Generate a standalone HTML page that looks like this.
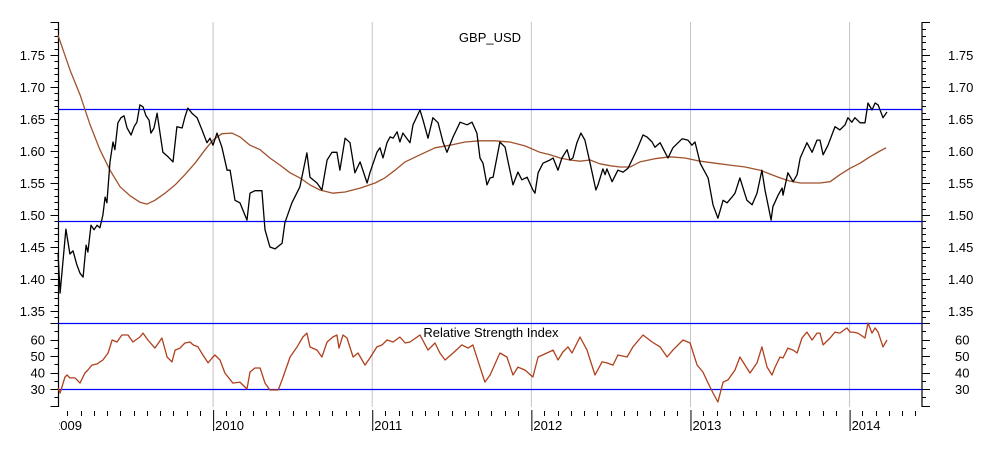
<!DOCTYPE html>
<html><head><meta charset="utf-8"><style>
html,body{margin:0;padding:0;background:#fff;}
svg{display:block;font-family:"Liberation Sans",Arial,sans-serif;}
</style></head><body>
<svg id="chart" width="1005" height="452" viewBox="0 0 1005 452" xmlns="http://www.w3.org/2000/svg">
<g id="grid"></g>
<g id="axes"></g>
<g id="series"></g>
<text x="490" y="42" font-size="13" text-anchor="middle">GBP_USD</text>
<text x="491" y="337" font-size="13" text-anchor="middle">Relative Strength Index</text>
</svg>
<script>
// ---- data (weeks since 1 Jan 2009) ----
const priceWeeks=[1.3,2,3.9,5.2,6.2,7.5,8.5,9.5,10.5,11.1,12.1,13.1,14.1,15,16,16.7,17.3,18.3,19.3,19.9,20.9,21.9,22.9,23.9,25.2,26.2,27.1,28.1,29.1,30.1,31.1,31.7,32.7,33.7,34.7,35.6,37.3,38.9,40.2,41.9,42.8,43.8,45.1,46.8,48.4,50,51,52,53.3,54.9,56.6,57.6,59.2,60.8,63.1,64.1,65.7,68,69,70.6,72.3,74.6,75.5,77.8,80.4,82.7,83.7,86,87.6,89.3,90.9,92.5,93.5,95.2,96.8,98.4,100.1,102.4,103.3,105.6,106.6,107.6,108.9,109.9,110.9,112.2,113.1,114.1,116.4,117.4,119.7,120.7,122.3,123.9,125.6,127.2,128.5,130.5,132.8,135.1,136.7,138.3,139.3,140.3,141.6,142.6,143.6,145.8,147.5,148.5,150.1,151.7,153,154.7,156.6,157.3,158.3,159.9,162.2,163.2,164.8,166.1,167.8,168.7,169.7,171,172.3,173.6,175.3,177.2,177.9,179.5,180.2,180.8,182.5,184.4,186.1,187.7,190.6,192.6,193.9,195.6,196.5,198.2,199.8,200.8,202.4,205.4,207.3,208.6,209.6,211.3,212.2,213.9,215.5,217.1,218.8,220.1,221.7,222.7,224.3,226.6,228.3,229.9,231.5,232.5,233.5,234.5,235.1,236.8,238.1,238.4,240,241.7,243,244,246.2,247.9,249.5,250.5,251.5,253.1,255.4,257,258.7,259.6,260.9,261.9,263.6,265.2,266.2,267.5,268.5,269.5,271.1,272.4];
const priceValues=[1.441,1.378,1.478,1.439,1.444,1.422,1.409,1.403,1.453,1.442,1.484,1.477,1.484,1.480,1.500,1.528,1.519,1.583,1.614,1.602,1.644,1.652,1.655,1.636,1.625,1.638,1.645,1.672,1.669,1.655,1.648,1.628,1.636,1.659,1.627,1.598,1.591,1.583,1.638,1.636,1.653,1.667,1.659,1.652,1.633,1.613,1.620,1.609,1.628,1.606,1.570,1.570,1.523,1.519,1.492,1.534,1.538,1.538,1.477,1.450,1.447,1.456,1.488,1.519,1.544,1.597,1.559,1.550,1.539,1.586,1.598,1.598,1.570,1.620,1.613,1.566,1.583,1.550,1.566,1.598,1.605,1.589,1.613,1.622,1.620,1.630,1.614,1.628,1.613,1.641,1.664,1.648,1.620,1.652,1.644,1.614,1.598,1.622,1.645,1.641,1.645,1.628,1.589,1.581,1.547,1.558,1.559,1.614,1.606,1.583,1.547,1.567,1.555,1.559,1.539,1.534,1.566,1.581,1.586,1.589,1.570,1.589,1.602,1.586,1.589,1.613,1.628,1.617,1.581,1.539,1.547,1.572,1.563,1.572,1.552,1.570,1.567,1.573,1.602,1.625,1.622,1.614,1.606,1.613,1.598,1.589,1.605,1.619,1.617,1.609,1.614,1.581,1.573,1.558,1.516,1.495,1.523,1.519,1.528,1.534,1.558,1.523,1.516,1.534,1.570,1.539,1.516,1.492,1.513,1.531,1.542,1.531,1.566,1.552,1.563,1.589,1.613,1.598,1.617,1.617,1.594,1.609,1.638,1.633,1.641,1.652,1.645,1.652,1.644,1.644,1.675,1.664,1.675,1.672,1.652,1.661];
const maWeeks=[1.3,5.2,8.5,11.8,15,18.3,21.6,24.9,28.1,30.4,33,36.3,39.6,42.8,46.1,49.4,52,54.9,58.2,60.8,64.1,67.4,70.6,73.9,77.2,80.4,83.7,87,91.2,95.2,100.1,105,108.2,111.5,114.8,119.7,124.6,129.5,134.4,139.3,144.2,149.1,154,158.9,162.2,165.5,168.7,172,175.3,178.5,181.8,185.1,188.4,191.6,196.5,201.4,206.3,211.3,216.2,221.1,226,230.9,234.1,237.4,240.7,244,247.2,250.5,253.8,257,260.3,263.6,266.8,270.1,272.1];
const maValues=[1.781,1.727,1.688,1.641,1.602,1.570,1.544,1.530,1.520,1.517,1.523,1.534,1.547,1.563,1.581,1.602,1.617,1.627,1.628,1.622,1.609,1.602,1.589,1.578,1.566,1.558,1.547,1.539,1.534,1.536,1.542,1.550,1.558,1.570,1.583,1.594,1.605,1.609,1.614,1.616,1.616,1.614,1.608,1.598,1.594,1.589,1.586,1.584,1.586,1.580,1.577,1.575,1.575,1.583,1.588,1.591,1.589,1.584,1.581,1.578,1.575,1.570,1.564,1.558,1.553,1.550,1.550,1.550,1.552,1.563,1.573,1.581,1.591,1.600,1.605];
const rsiWeeks=[1.3,2,3.6,4.3,5.2,6.9,8.5,10.1,11.1,12.4,14.1,16,17.7,19,20.6,22.2,24.2,25.8,28.1,29.1,30.7,33,35.3,37,38.6,39.6,41.2,42.8,44.5,45.5,47.1,48.7,50.4,51.7,52.6,54.3,55.9,58.5,60.8,63.1,64.1,65.7,67.4,69,70.6,73.3,74.6,77.2,79.5,81.4,82.7,83.7,86,87.6,89.3,91.2,92.5,93.2,94.5,95.8,97.8,99.4,101.7,103.3,105.6,107.3,108.9,110.9,113.1,114.8,116.4,119.7,122.3,124.6,126.2,127.9,130.5,133.4,135.4,137,139.3,140.9,142.6,145.8,148.1,150.1,151.7,154,156.6,158.3,161.2,163.2,164.8,166.4,168.1,169.4,172,174.3,176.9,179.2,180.8,182.8,184.4,187.4,189.3,192.6,195.6,198.2,200.5,202.4,205.7,208,210.3,212.2,213.9,215.5,217.1,218.8,220.4,222.7,224.3,227.6,229.9,231.5,233.2,234.8,235.8,237.4,238.4,240,241.7,243,244.6,246.2,247.9,249.5,250.5,251.5,253.8,255.4,257,259.3,260.3,261.3,262.9,265.2,266.2,267.5,268.5,269.5,271.1,272.4];
const rsiValues=[30.6,27.6,37.3,38.5,36.7,36.7,33.6,39.7,41.5,44.5,45.2,47.6,51.8,59.7,58.5,62.7,62.7,58.5,61.5,63.9,59.7,54.8,60.9,49.4,46.4,53.6,54.8,57.9,58.5,56.7,55.5,50.6,45.8,48.8,50.6,47.6,39.7,33.6,34.2,30,40.3,42.7,42.7,33.6,29.4,29.4,35.5,49.4,55.5,61.5,63.9,55.5,53.6,49.4,58.5,61.5,62.7,54.8,62.7,60.9,49.4,51.8,44.5,48.8,55.5,56.7,59.7,58.5,61.5,57.9,58.5,62.7,53.6,57.9,51.8,47.6,51.8,56.7,54.8,56.7,43.3,34.2,38.5,51.8,49.4,38.5,43.3,41.5,37.3,49.4,51.8,53.6,47.6,52.4,55.5,51.8,61.5,53.6,38.5,46.4,45.8,44.5,50.6,49.4,55.5,62.7,58.5,55.5,49.4,53.6,59.7,57.9,44.5,40.3,33.6,27.6,22.1,34.2,35.5,41.5,49.4,39.7,45.8,55.5,43.3,38.5,43.3,49.4,48.8,54.8,53.6,51.8,60.9,64.5,59.7,63.9,63.9,56.7,60.9,64.5,63.9,67,64.5,64.5,63.9,60.9,70,63.9,67,64.5,55.5,59.7];
const years=[2009,2010,2011,2012,2013,2014];
const priceTicks=[1.75,1.70,1.65,1.60,1.55,1.50,1.45,1.40,1.35];
const rsiTicks=[60,50,40,30];
const priceLevels=[1.665,1.49];
const rsiLevels=[70,30];

// ---- scales ----
const X0=54, PX_PER_WEEK=3.058;
const xW=w=>X0+w*PX_PER_WEEK;
const xYear=y=>X0+(y-2009)*52*PX_PER_WEEK+(y-2009)*0.1;
const yP=v=>55+(1.75-v)/0.05*32;
const yR=v=>323+(70-v)*1.65;
const L=58.5, R=922, TOP=22, BOT=407;
const NS="http://www.w3.org/2000/svg";
function mk(tag,attrs,parent){const e=document.createElementNS(NS,tag);for(const k in attrs)e.setAttribute(k,attrs[k]);parent.appendChild(e);return e;}
const grid=document.getElementById('grid'), axes=document.getElementById('axes'), series=document.getElementById('series');
const defs=mk('defs',{},document.getElementById('chart'));
const cp=mk('clipPath',{id:'clipL'},defs); mk('rect',{x:59,y:0,width:1000,height:452},cp);

years.forEach(y=>{
  const x=xYear(y);
  if(y>2009){
    const g=mk('line',{x1:x,x2:x,y1:TOP,y2:BOT,stroke:'#c4c4c4','stroke-width':1},grid);
    
    
    const t=mk('line',{x1:x+0.5,x2:x+0.5,y1:410,y2:431,stroke:'#000','stroke-width':1},axes);
    
    
  }
  const lb=mk('text',{x:(y===2009?x-1:x+2),y:430,'font-size':13,'clip-path':'url(#clipL)'},axes);
  lb.textContent=String(y);
  
  
});
for(let m=1;m<=72;m++){
  if(m%12===0) continue;
  const x=Math.round(X0+m*159/12)+0.5;
  if(x>R) break;
  const t=mk('line',{x1:x,x2:x,y1:411,y2:416,stroke:'#000','stroke-width':1},axes);
  
  
}

[L,R].forEach((x,i)=>{
  const a=mk('line',{x1:x,x2:x,y1:TOP,y2:BOT,stroke:'#000','stroke-width':1.2},axes);
  
  
});
for(let k=0;k<=45;k++){
  const v=1.79-k*0.01; const y=Math.round(yP(v))+0.5;
  if(y<TOP||y>318) continue;
  const major=Math.abs(Math.round(v*100)%5)===0;
  const len=major?8:4;
  mk('line',{x1:L-len,x2:L,y1:y,y2:y,stroke:'#000'},axes);
  mk('line',{x1:R,x2:R+len,y1:y,y2:y,stroke:'#000'},axes);
}
mk('line',{x1:L-8,x2:L,y1:TOP+0.5,y2:TOP+0.5,stroke:'#000'},axes);
mk('line',{x1:R,x2:R+8,y1:TOP+0.5,y2:TOP+0.5,stroke:'#000'},axes);
priceTicks.forEach(v=>{
  const y=yP(v)+5;
  const a=mk('text',{x:45,y:y,'font-size':13,'text-anchor':'end'},axes);a.textContent=v.toFixed(2);
  
  
  const b=mk('text',{x:948,y:y,'font-size':13},axes);b.textContent=v.toFixed(2);
  
  
});
for(let v=70;v>=20;v-=5){
  const y=Math.round(yR(v))+0.5; const len=(v%10===0)?8:4;
  mk('line',{x1:L-len,x2:L,y1:y,y2:y,stroke:'#000'},axes);
  mk('line',{x1:R,x2:R+len,y1:y,y2:y,stroke:'#000'},axes);
}
rsiTicks.forEach(v=>{
  const y=yR(v)+5;
  const a=mk('text',{x:45,y:y,'font-size':13,'text-anchor':'end'},axes);a.textContent=v;
  
  
  const b=mk('text',{x:955,y:y,'font-size':13},axes);b.textContent=v;
  
  
});

priceLevels.forEach(v=>{
  const y=Math.round(yP(v))+0.5;
  const l=mk('line',{x1:L,x2:R,y1:y,y2:y,stroke:'#0000ff','stroke-width':1.2},series);
  
  
});
rsiLevels.forEach(v=>{
  const y=Math.round(yR(v))+0.5;
  const l=mk('line',{x1:L,x2:R,y1:y,y2:y,stroke:'#0000ff','stroke-width':1.2},series);
  
  
});

function poly(ws,vs,ys,color,name){
  const pts=ws.map((w,i)=>xW(w).toFixed(1)+','+ys(vs[i]).toFixed(1)).join(' ');
  const p=mk('polyline',{points:pts,fill:'none',stroke:color,'stroke-width':1.3,'stroke-linejoin':'round'},series);
  
  
}
poly(maWeeks,maValues,yP,'#a0522d','moving-average-line');
poly(priceWeeks,priceValues,yP,'#000000','price-line');
poly(rsiWeeks,rsiValues,yR,'#b0401e','rsi-line');
</script>
</body></html>
